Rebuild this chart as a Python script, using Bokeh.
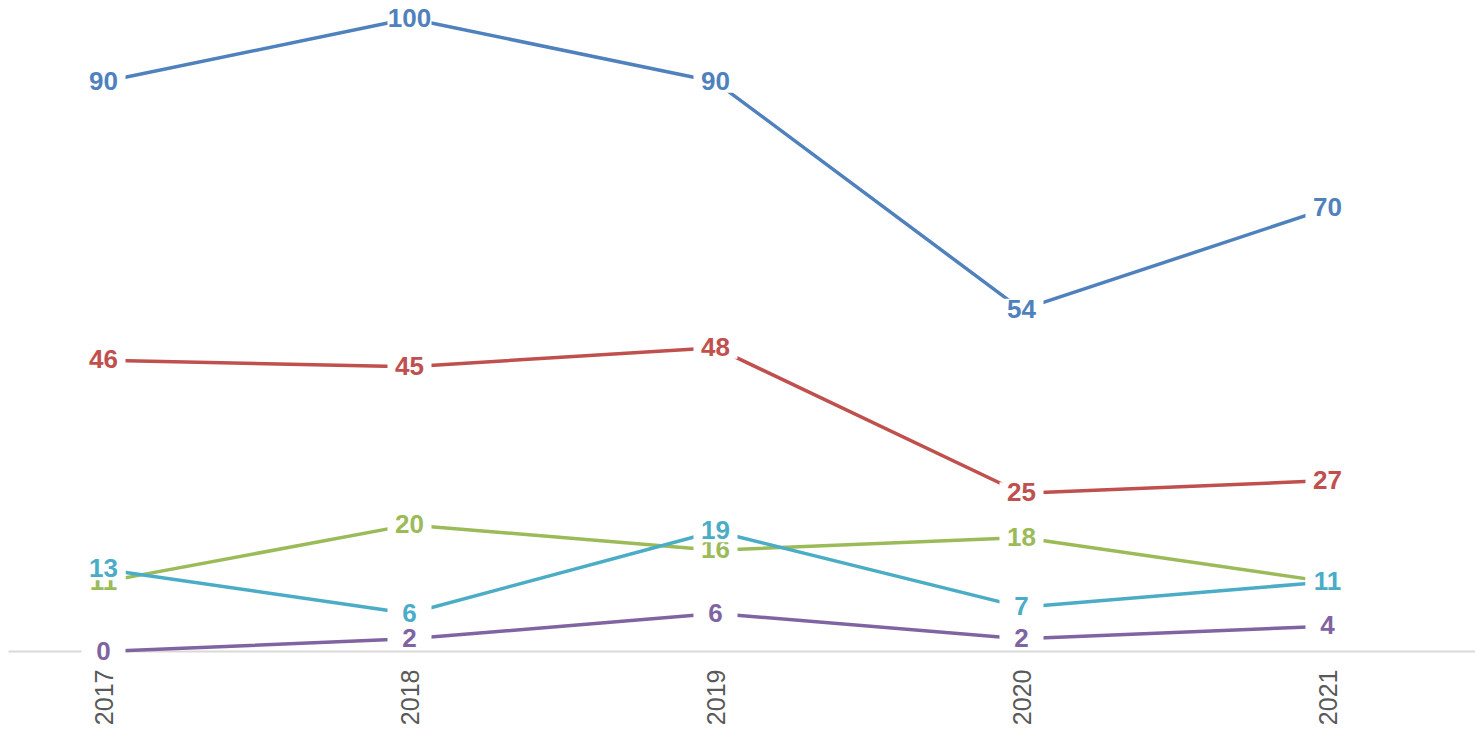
import math
from bokeh.plotting import figure
from bokeh.models import Range1d, FixedTicker, ColumnDataSource
from bokeh.core.properties import value
from bokeh.embed import file_html
from bokeh.resources import INLINE

years = [2017, 2018, 2019, 2020, 2021]
series_blue = [90, 100, 90, 54, 70]
series_red = [46, 45, 48, 25, 27]
series_green = [11, 20, 16, 18, 11]
series_aqua = [13, 6, 19, 7, 11]
series_purple = [0, 2, 6, 2, 4]

series = [
    (series_blue, "#4F81BD"),
    (series_red, "#C0504D"),
    (series_green, "#9BBB59"),
    (series_aqua, "#4BACC6"),
    (series_purple, "#8064A2"),
]

X0 = 2017 - 103 / 306
X1 = X0 + 1475 / 306

p = figure(width=1475, height=732, output_backend="svg", toolbar_location=None,
           min_border_left=0, min_border_right=0, min_border_top=0, min_border_bottom=64)
p.x_range = Range1d(X0, X1)
p.y_range = Range1d(-17 / 6.33, 100 + 18 / 6.33)
p.outline_line_color = None
p.xgrid.visible = False
p.ygrid.visible = False
p.yaxis.visible = False
p.background_fill_color = "white"
p.border_fill_color = "white"

xa = p.xaxis[0]
xa.ticker = FixedTicker(ticks=years)
xa.axis_line_color = None
xa.major_tick_line_color = None
xa.minor_tick_line_color = None
xa.major_tick_out = 0
xa.major_tick_in = 0
xa.major_label_orientation = math.pi / 2
xa.major_label_standoff = 1
xa.major_label_text_font = "Liberation Sans"
xa.major_label_text_font_size = "25px"
xa.major_label_text_color = "#595959"

# baseline at zero, starting 8px from the left edge
p.segment(x0=[X0 + 8 / 306], y0=[0], x1=[X1], y1=[0], line_color="#d9d9d9", line_width=2)

for vals, col in series:
    p.line(years, vals, line_color=col, line_width=3.5)

for vals, col in series:
    src = ColumnDataSource(dict(x=years, y=vals, t=[str(v) for v in vals]))
    p.rect("x", "y", width=44, height=22, width_units="screen", height_units="screen",
           source=src, fill_color="white", line_color=None)
    p.text("x", "y", text="t", source=src, text_color=col,
           text_font=value("Liberation Sans"), text_font_style="bold",
           text_font_size="26px", text_align="center", text_baseline="middle",
           y_offset=-1)

open("out.html", "w").write(file_html(p, INLINE))
